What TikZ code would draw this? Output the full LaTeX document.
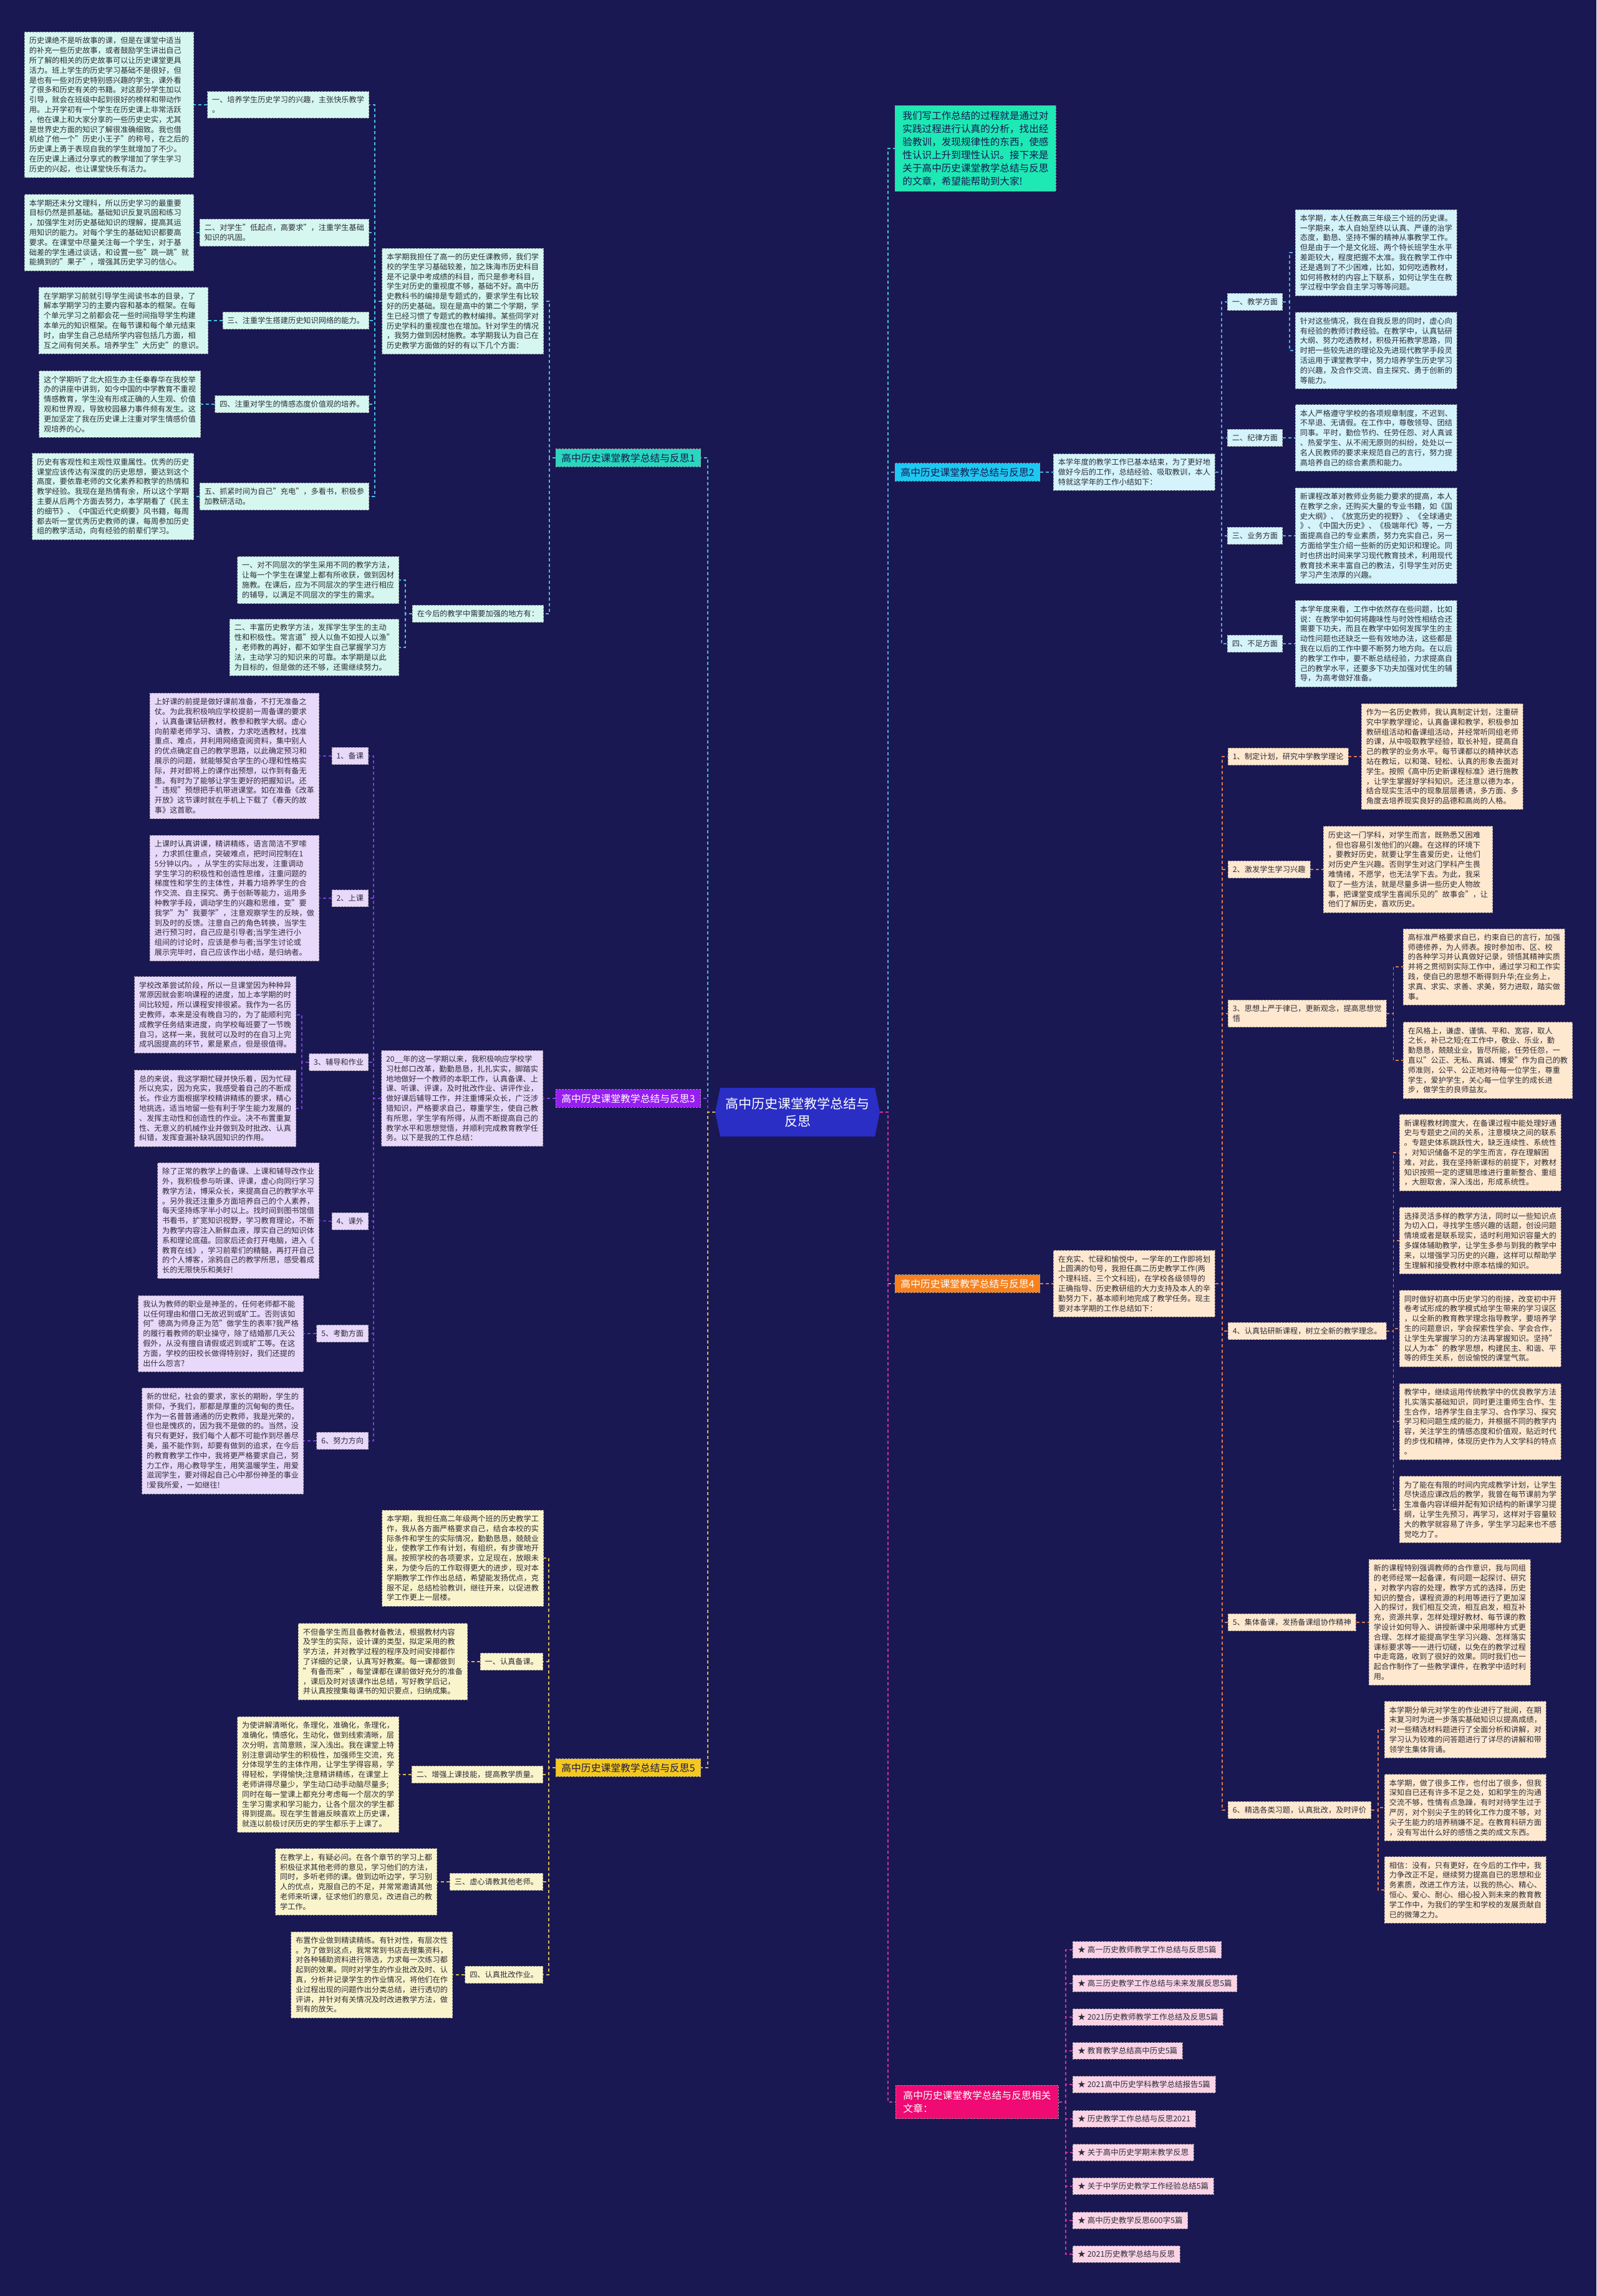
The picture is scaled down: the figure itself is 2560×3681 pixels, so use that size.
\documentclass[tikz,border=0pt]{standalone}
\usepackage{fontspec}
\setmainfont{Noto Sans CJK SC}
\definecolor{bg}{RGB}{26,24,82}
\definecolor{txt}{RGB}{45,45,55}
\definecolor{rootc}{RGB}{42,46,196}
\definecolor{aFill}{RGB}{214,247,240}\definecolor{aLine}{RGB}{70,190,225}\definecolor{aHead}{RGB}{40,215,190}
\definecolor{iFill}{RGB}{30,232,180}\definecolor{iLine}{RGB}{60,200,200}
\definecolor{bFill}{RGB}{212,243,250}\definecolor{bLine}{RGB}{80,170,230}\definecolor{bHead}{RGB}{30,200,240}
\definecolor{cFill}{RGB}{232,216,250}\definecolor{cLine}{RGB}{120,60,220}\definecolor{cHead}{RGB}{150,30,240}
\definecolor{dFill}{RGB}{254,232,208}\definecolor{dLine}{RGB}{220,120,80}\definecolor{dHead}{RGB}{245,130,30}
\definecolor{eFill}{RGB}{250,244,205}\definecolor{eLine}{RGB}{215,185,75}\definecolor{eHead}{RGB}{245,200,30}
\definecolor{fFill}{RGB}{250,212,230}\definecolor{fLine}{RGB}{210,50,170}\definecolor{fHead}{RGB}{240,10,115}
\tikzset{
 box/.style={draw=black!45, dash pattern=on 3pt off 2pt, line width=0.9pt, align=left, inner xsep=7.5pt, inner ysep=8pt, font=\fontsize{12.2}{15.8}\selectfont, text=txt},
 la/.style={box, fill=aFill},
 lb/.style={box, fill=bFill},
 lc/.style={box, fill=cFill},
 ld/.style={box, fill=dFill},
 le/.style={box, fill=eFill},
 lf/.style={box, fill=fFill, inner xsep=8pt, inner ysep=7.5pt, font=\fontsize{12.5}{15.8}\selectfont},
 head/.style={draw=black!40, dash pattern=on 3pt off 2pt, line width=0.9pt, align=left, inner xsep=9pt, inner ysep=7pt, font=\fontsize{15.8}{21}\selectfont},
 conn/.style={line width=1.6pt, dash pattern=on 5pt off 4pt},
}
\begin{document}
\begin{tikzpicture}[x=1pt,y=-1pt]
\fill[bg] (0,0) rectangle (2560,3681);
\useasboundingbox (0,0) rectangle (2560,3681);

% ---------------- root ----------------
\fill[rootc] (1155,1744) -- (1403,1744) -- (1411,1783) -- (1403,1822) -- (1155,1822) -- (1147,1783) -- cycle;
\node[minimum width=264pt, minimum height=78pt, inner sep=0pt] (root) at (1279,1783) {};
\node[text=white, align=center, font=\fontsize{21}{28}\selectfont] at (1279,1783) {高中历史课堂教学总结与\\反思};

% ---------------- branch 1 ----------------
\node[head, fill=aHead, text=bg, anchor=east] (B1) at (1124,734) {高中历史课堂教学总结与反思1};
\node[la, anchor=east] (N1) at (872,483) {本学期我担任了高一的历史任课教师，我们学\\校的学生学习基础较差，加之珠海市历史科目\\是不记录中考成绩的科目，而只是参考科目，\\学生对历史的重视度不够，基础不好。高中历\\史教科书的编排是专题式的，要求学生有比较\\好的历史基础。现在是高中的第二个学期，学\\生已经习惯了专题式的教材编排。某些同学对\\历史学科的重视度也在增加。针对学生的情况\\，我努力做到因材施教。本学期我认为自己在\\历史教学方面做的好的有以下几个方面：};
\node[la, anchor=east] (N1b) at (872,984) {在今后的教学中需要加强的地方有：};
\node[la, anchor=east] (C1a) at (592,168) {一、培养学生历史学习的兴趣，主张快乐教学\\。};
\node[la, anchor=east] (C1b) at (592,373) {二、对学生"低起点，高要求"，注重学生基础\\知识的巩固。};
\node[la, anchor=east] (C1c) at (592,514) {三、注重学生搭建历史知识网络的能力。};
\node[la, anchor=east] (C1d) at (592,648) {四、注重对学生的情感态度价值观的培养。};
\node[la, anchor=east] (C1e) at (592,796) {五、抓紧时间为自己"充电"，多看书，积极参\\加教研活动。};
\node[la, anchor=east] (L1a) at (311,168) {历史课绝不是听故事的课，但是在课堂中适当\\的补充一些历史故事，或者鼓励学生讲出自己\\所了解的相关的历史故事可以让历史课堂更具\\活力。班上学生的历史学习基础不是很好，但\\是也有一些对历史特别感兴趣的学生，课外看\\了很多和历史有关的书籍。对这部分学生加以\\引导，就会在班级中起到很好的榜样和带动作\\用。上开学初有一个学生在历史课上非常活跃\\，他在课上和大家分享的一些历史史实，尤其\\是世界史方面的知识了解很准确细致。我也借\\机给了他一个"历史小王子"的称号，在之后的\\历史课上勇于表现自我的学生就增加了不少。\\在历史课上通过分享式的教学增加了学生学习\\历史的兴起，也让课堂快乐有活力。};
\node[la, anchor=east] (L1b) at (311,373) {本学期还未分文理科，所以历史学习的最重要\\目标仍然是抓基础。基础知识反复巩固和练习\\，加强学生对历史基础知识的理解，提高其运\\用知识的能力。对每个学生的基础知识都要高\\要求。在课堂中尽量关注每一个学生，对于基\\础差的学生通过谈话，和设置一些"跳一跳"就\\能摘到的"果子"，增强其历史学习的信心。};
\node[la, anchor=east] (L1c) at (334,514) {在学期学习前就引导学生阅读书本的目录，了\\解本学期学习的主要内容和基本的框架。在每\\个单元学习之前都会花一些时间指导学生构建\\本单元的知识框架。在每节课和每个单元结束\\时，由学生自己总结所学内容包括几方面，相\\互之间有何关系。培养学生"大历史"的意识。};
\node[la, anchor=east] (L1d) at (322,648) {这个学期听了北大招生办主任秦春华在我校举\\办的讲座中讲到，如今中国的中学教育不重视\\情感教育，学生没有形成正确的人生观、价值\\观和世界观，导致校园暴力事件频有发生。这\\更加坚定了我在历史课上注重对学生情感价值\\观培养的心。};
\node[la, anchor=east] (L1e) at (311,796) {历史有客观性和主观性双重属性。优秀的历史\\课堂应该传达有深度的历史思想，要达到这个\\高度，要依靠老师的文化素养和教学的热情和\\教学经验。我现在是热情有余，所以这个学期\\主要从后两个方面去努力，本学期看了《民主\\的细节》、《中国近代史纲要》风书籍，每周\\都去听一堂优秀历史教师的课，每周参加历史\\组的教学活动，向有经验的前辈们学习。};
\node[la, anchor=east] (L1f) at (640,930) {一、对不同层次的学生采用不同的教学方法，\\让每一个学生在课堂上都有所收获，做到因材\\施教。在课后，应为不同层次的学生进行相应\\的辅导，以满足不同层次的学生的需求。};
\node[la, anchor=east] (L1g) at (640,1038) {二、丰富历史教学方法，发挥学生学生的主动\\性和积极性。常言道"授人以鱼不如授人以渔"\\，老师教的再好，都不如学生自己掌握学习方\\法，主动学习的知识来的可靠。本学期是以此\\为目标的，但是做的还不够，还需继续努力。};

\draw[conn,aLine] (root.west) -- ++(-12,0) |- (B1.east);
\foreach \c in {N1,N1b} \draw[conn,aLine] (B1.west) -- ++(-10,0) |- (\c.east);
\foreach \c in {C1a,C1b,C1c,C1d,C1e} \draw[conn,aLine] (N1.west) -- ++(-11,0) |- (\c.east);
\draw[conn,aLine] (C1a.west) -- (L1a.east);
\draw[conn,aLine] (C1b.west) -- (L1b.east);
\draw[conn,aLine] (C1c.west) -- (L1c.east);
\draw[conn,aLine] (C1d.west) -- (L1d.east);
\draw[conn,aLine] (C1e.west) -- (L1e.east);
\foreach \c in {L1f,L1g} \draw[conn,aLine] (N1b.west) -- ++(-11,0) |- (\c.east);

% ---------------- branch 3 ----------------
\node[head, fill=cHead, text=white, anchor=east] (B3) at (1124,1761) {高中历史课堂教学总结与反思3};
\node[lc, anchor=east] (N3) at (871,1761) {20\_\_年的这一学期以来，我积极响应学校学\\习杜郎口改革，勤勤恳恳，扎扎实实，脚踏实\\地地做好一个教师的本职工作，认真备课、上\\课、听课、评课，及时批改作业、讲评作业，\\做好课后辅导工作，并注重博采众长，广泛涉\\猎知识，严格要求自己，尊重学生，使自己教\\有所思，学生学有所得，从而不断提高自己的\\教学水平和思想觉悟，并顺利完成教育教学任\\务。以下是我的工作总结：};
\node[lc, anchor=east] (C3a) at (591,1212) {1、备课};
\node[lc, anchor=east] (C3b) at (591,1440) {2、上课};
\node[lc, anchor=east] (C3c) at (591,1703) {3、辅导和作业};
\node[lc, anchor=east] (C3d) at (591,1958) {4、课外};
\node[lc, anchor=east] (C3e) at (591,2138) {5、考勤方面};
\node[lc, anchor=east] (C3f) at (591,2310) {6、努力方向};
\node[lc, anchor=east] (L3a) at (512,1212) {上好课的前提是做好课前准备，不打无准备之\\仗。为此我积极响应学校提前一周备课的要求\\，认真备课钻研教材，教参和教学大纲。虚心\\向前辈老师学习、请教，力求吃透教材，找准\\重点、难点，并利用网络查阅资料，集中别人\\的优点确定自己的教学思路，以此确定预习和\\展示的问题，就能够契合学生的心理和性格实\\际，并对即将上的课作出预想，以作到有备无\\患。有时为了能够让学生更好的把握知识。还\\"违规"预想把手机带进课堂。如在准备《改革\\开放》这节课时就在手机上下载了《春天的故\\事》这首歌。};
\node[lc, anchor=east] (L3b) at (512,1440) {上课时认真讲课，精讲精练，语言简洁不罗嗦\\，力求抓住重点，突破难点，把时间控制在1\\5分钟以内。，从学生的实际出发，注重调动\\学生学习的积极性和创造性思维，注重问题的\\梯度性和学生的主体性，并着力培养学生的合\\作交流、自主探究、勇于创新等能力，运用多\\种教学手段，调动学生的兴趣和思维，变"要\\我学"为"我要学"，注意观察学生的反映，做\\到及时的反馈。注意自己的角色转换，当学生\\进行预习时，自己应是引导者;当学生进行小\\组间的讨论时，应该是参与者;当学生讨论或\\展示完毕时，自己应该作出小结，是归纳者。};
\node[lc, anchor=east] (L3c) at (475,1627) {学校改革尝试阶段，所以一旦课堂因为种种异\\常原因就会影响课程的进度，加上本学期的时\\间比较短，所以课程安排很紧。我作为一名历\\史教师，本来是没有晚自习的，为了能顺利完\\成教学任务结束进度，向学校每班要了一节晚\\自习，这样一来，我就可以及时的在自习上完\\成巩固提高的环节，累是累点，但是很值得。};
\node[lc, anchor=east] (L3d) at (475,1777) {总的来说，我这学期忙碌并快乐着，因为忙碌\\所以充实，因为充实，我感受着自己的不断成\\长。作业方面根据学校精讲精练的要求，精心\\地挑选，适当地留一些有利于学生能力发展的\\、发挥主动性和创造性的作业。决不布置重复\\性、无意义的机械作业并做到及时批改、认真\\纠错，发挥查漏补缺巩固知识的作用。};
\node[lc, anchor=east] (L3e) at (512,1957) {除了正常的教学上的备课、上课和辅导改作业\\外，我积极参与听课、评课，虚心向同行学习\\教学方法，博采众长，来提高自己的教学水平\\。另外我还注重多方面培养自己的个人素养，\\每天坚持练字半小时以上。找时间到图书馆借\\书看书，扩宽知识视野，学习教育理论，不断\\为教学内容注入新鲜血液，厚实自己的知识体\\系和理论底蕴。回家后还会打开电脑，进入《\\教育在线》，学习前辈们的精髓，再打开自己\\的个人博客，涂鸦自己的教学所思，感受着成\\长的无限快乐和美好!};
\node[lc, anchor=east] (L3f) at (487,2138) {我认为教师的职业是神圣的，任何老师都不能\\以任何理由和借口无故迟到或旷工。否则该如\\何"德高为师身正为范"做学生的表率?我严格\\的履行着教师的职业操守，除了结婚那几天公\\假外，从没有擅自请假或迟到或旷工等。在这\\方面，学校的田校长做得特别好，我们还提的\\出什么怨言?};
\node[lc, anchor=east] (L3g) at (487,2310) {新的世纪，社会的要求，家长的期盼，学生的\\崇仰，予我们，那都是厚重的沉甸甸的责任。\\作为一名普普通通的历史教师，我是光荣的，\\但也是愧疚的，因为我不是做的的。当然，没\\有只有更好，我们每个人都不可能作到尽善尽\\美，虽不能作到，却要有做到的追求，在今后\\的教育教学工作中，我将更严格要求自己，努\\力工作，用心教导学生，用笑温暖学生，用爱\\滋润学生，要对得起自己心中那份神圣的事业\\!爱我所爱，一如继往!};

\draw[conn,cLine] (root.west) -- ++(-12,0) |- (B3.east);
\draw[conn,cLine] (B3.west) -- (N3.east);
\foreach \c in {C3a,C3b,C3c,C3d,C3e,C3f} \draw[conn,cLine] (N3.west) -- ++(-12,0) |- (\c.east);
\draw[conn,cLine] (C3a.west) -- (L3a.east);
\draw[conn,cLine] (C3b.west) -- (L3b.east);
\foreach \c in {L3c,L3d} \draw[conn,cLine] (C3c.west) -- ++(-11,0) |- (\c.east);
\draw[conn,cLine] (C3d.west) -- (L3e.east);
\draw[conn,cLine] (C3e.west) -- (L3f.east);
\draw[conn,cLine] (C3f.west) -- (L3g.east);

% ---------------- branch 5 ----------------
\node[head, fill=eHead, text=bg, anchor=east] (B5) at (1124,2834) {高中历史课堂教学总结与反思5};
\node[le, anchor=east] (N5) at (872,2498) {本学期，我担任高二年级两个班的历史教学工\\作，我从各方面严格要求自己，结合本校的实\\际条件和学生的实际情况，勤勤恳恳，兢兢业\\业，使教学工作有计划，有组织，有步骤地开\\展。按照学校的各项要求，立足现在，放眼未\\来，为使今后的工作取得更大的进步，现对本\\学期教学工作作出总结，希望能发扬优点，克\\服不足，总结检验教训，继往开来，以促进教\\学工作更上一层楼。};
\node[le, anchor=east] (C5a) at (871,2664) {一、认真备课。};
\node[le, anchor=east] (C5b) at (871,2845) {二、增强上课技能，提高教学质量。};
\node[le, anchor=east] (C5c) at (871,3017) {三、虚心请教其他老师。};
\node[le, anchor=east] (C5d) at (871,3166) {四、认真批改作业。};
\node[le, anchor=east] (L5a) at (750,2664) {不但备学生而且备教材备教法，根据教材内容\\及学生的实际，设计课的类型，拟定采用的教\\学方法，并对教学过程的程序及时间安排都作\\了详细的记录，认真写好教案。每一课都做到\\"有备而来"，每堂课都在课前做好充分的准备\\，课后及时对该课作出总结，写好教学后记，\\并认真按搜集每课书的知识要点，归纳成集。};
\node[le, anchor=east] (L5b) at (640,2845) {为使讲解清晰化，条理化，准确化，条理化，\\准确化，情感化，生动化，做到线索清晰，层\\次分明，言简意赅，深入浅出。我在课堂上特\\别注意调动学生的积极性，加强师生交流，充\\分体现学生的主体作用，让学生学得容易，学\\得轻松，学得愉快;注意精讲精练，在课堂上\\老师讲得尽量少，学生动口动手动脑尽量多;\\同时在每一堂课上都充分考虑每一个层次的学\\生学习需求和学习能力，让各个层次的学生都\\得到提高。现在学生普遍反映喜欢上历史课，\\就连以前极讨厌历史的学生都乐于上课了。};
\node[le, anchor=east] (L5c) at (701,3017) {在教学上，有疑必问。在各个章节的学习上都\\积极征求其他老师的意见，学习他们的方法，\\同时，多听老师的课。做到边听边学，学习别\\人的优点，克服自己的不足，并常常邀请其他\\老师来听课，征求他们的意见，改进自己的教\\学工作。};
\node[le, anchor=east] (L5d) at (726,3166) {布置作业做到精读精练。有针对性，有层次性\\。为了做到这点，我常常到书店去搜集资料，\\对各种辅助资料进行筛选，力求每一次练习都\\起到的效果。同时对学生的作业批改及时、认\\真，分析并记录学生的作业情况，将他们在作\\业过程出现的问题作出分类总结，进行透切的\\评讲，并针对有关情况及时改进教学方法，做\\到有的放矢。};

\draw[conn,eLine] (root.west) -- ++(-12,0) |- (B5.east);
\foreach \c in {N5,C5a,C5b,C5c,C5d} \draw[conn,eLine] (B5.west) -- ++(-11,0) |- (\c.east);
\draw[conn,eLine] (C5a.west) -- (L5a.east);
\draw[conn,eLine] (C5b.west) -- (L5b.east);
\draw[conn,eLine] (C5c.west) -- (L5c.east);
\draw[conn,eLine] (C5d.west) -- (L5d.east);

% ---------------- intro & branch 2 ----------------
\node[head, fill=iFill, text=bg, anchor=west, inner xsep=12pt, inner ysep=9pt, font=\fontsize{15.6}{21}\selectfont] (intro) at (1435,238) {我们写工作总结的过程就是通过对\\实践过程进行认真的分析，找出经\\验教训，发现规律性的东西，使感\\性认识上升到理性认识。接下来是\\关于高中历史课堂教学总结与反思\\的文章，希望能帮助到大家!};
\node[head, fill=bHead, text=bg, anchor=west] (B2) at (1435,757) {高中历史课堂教学总结与反思2};
\node[lb, anchor=west] (N2) at (1689,757) {本学年度的教学工作已基本结束，为了更好地\\做好今后的工作，总结经验、吸取教训，本人\\特就这学年的工作小结如下：};
\node[lb, anchor=west] (C2a) at (1968,484) {一、教学方面};
\node[lb, anchor=west] (C2b) at (1968,702) {二、纪律方面};
\node[lb, anchor=west] (C2c) at (1968,859) {三、业务方面};
\node[lb, anchor=west] (C2d) at (1968,1032) {四、不足方面};
\node[lb, anchor=west] (L2a) at (2077,405) {本学期，本人任教高三年级三个班的历史课。\\一学期来，本人自始至终以认真、严谨的治学\\态度，勤恳、坚持不懈的精神从事教学工作。\\但是由于一个是文化班、两个特长班学生水平\\差距较大，程度把握不太准。我在教学工作中\\还是遇到了不少困难，比如，如何吃透教材，\\如何将教材的内容上下联系，如何让学生在教\\学过程中学会自主学习等等问题。};
\node[lb, anchor=west] (L2b) at (2077,562) {针对这些情况，我在自我反思的同时，虚心向\\有经验的教师讨教经验。在教学中，认真钻研\\大纲、努力吃透教材，积极开拓教学思路，同\\时把一些较先进的理论及先进现代教学手段灵\\活运用于课堂教学中，努力培养学生历史学习\\的兴趣，及合作交流、自主探究、勇于创新的\\等能力。};
\node[lb, anchor=west] (L2c) at (2077,702) {本人严格遵守学校的各项规章制度，不迟到、\\不早退、无请假。在工作中，尊敬领导、团结\\同事。平时，勤俭节约、任劳任怨、对人真诚\\、热爱学生、从不闹无原则的纠纷，处处以一\\名人民教师的要求来规范自己的言行，努力提\\高培养自己的综合素质和能力。};
\node[lb, anchor=west] (L2d) at (2077,859) {新课程改革对教师业务能力要求的提高，本人\\在教学之余，还购买大量的专业书籍，如《国\\史大纲》、《放宽历史的视野》、《全球通史\\》、《中国大历史》、《极端年代》等，一方\\面提高自己的专业素质，努力充实自己，另一\\方面给学生介绍一些新的历史知识和理论。同\\时也挤出时间来学习现代教育技术，利用现代\\教育技术来丰富自己的教法，引导学生对历史\\学习产生浓厚的兴趣。};
\node[lb, anchor=west] (L2e) at (2077,1032) {本学年度来看，工作中依然存在些问题，比如\\说：在教学中如何将趣味性与时效性相结合还\\需要下功夫，而且在教学中如何发挥学生的主\\动性问题也还缺乏一些有效地办法，这些都是\\我在以后的工作中要不断努力地方向。在以后\\的教学工作中，要不断总结经验，力求提高自\\己的教学水平，还要多下功夫加强对优生的辅\\导，为高考做好准备。};

\draw[conn,iLine] (root.east) -- ++(13,0) |- (intro.west);
\draw[conn,bLine] (root.east) -- ++(13,0) |- (B2.west);
\draw[conn,bLine] (B2.east) -- (N2.west);
\foreach \c in {C2a,C2b,C2c,C2d} \draw[conn,bLine] (N2.east) -- ++(10,0) |- (\c.west);
\foreach \c in {L2a,L2b} \draw[conn,bLine] (C2a.east) -- ++(11,0) |- (\c.west);
\draw[conn,bLine] (C2b.east) -- (L2c.west);
\draw[conn,bLine] (C2c.east) -- (L2d.west);
\draw[conn,bLine] (C2d.east) -- (L2e.west);

% ---------------- branch 4 ----------------
\node[head, fill=dHead, text=white, anchor=west] (B4) at (1435,2058) {高中历史课堂教学总结与反思4};
\node[ld, anchor=west] (N4) at (1689,2058) {在充实、忙碌和愉悦中，一学年的工作即将划\\上圆满的句号，我担任高二历史教学工作(两\\个理科班、三个文科班)，在学校各级领导的\\正确指导、历史教研组的大力支持及本人的辛\\勤努力下，基本顺利地完成了教学任务。现主\\要对本学期的工作总结如下：};
\node[ld, anchor=west] (C4a) at (1969,1213) {1、制定计划，研究中学教学理论};
\node[ld, anchor=west] (C4b) at (1969,1394) {2、激发学生学习兴趣};
\node[ld, anchor=west] (C4c) at (1969,1625) {3、思想上严于律已，更新观念，提高思想觉\\悟};
\node[ld, anchor=west] (C4d) at (1969,2134) {4、认真钻研新课程，树立全新的教学理念。};
\node[ld, anchor=west] (C4e) at (1969,2601) {5、集体备课，发扬备课组协作精神};
\node[ld, anchor=west] (C4f) at (1969,2902) {6、精选各类习题，认真批改，及时评价};
\node[ld, anchor=west] (L4a) at (2183,1213) {作为一名历史教师，我认真制定计划，注重研\\究中学教学理论，认真备课和教学，积极参加\\教研组活动和备课组活动，并经常听同组老师\\的课，从中吸取教学经验，取长补短，提高自\\己的教学的业务水平。每节课都以的精神状态\\站在教坛，以和蔼、轻松、认真的形象去面对\\学生。按照《高中历史新课程标准》进行施教\\，让学生掌握好学科知识。还注意以德为本，\\结合现实生活中的现象层层善诱，多方面、多\\角度去培养现实良好的品德和高尚的人格。};
\node[ld, anchor=west] (L4b) at (2122,1394) {历史这一门学科，对学生而言，既熟悉又困难\\，但也容易引发他们的兴趣。在这样的环境下\\，要教好历史，就要让学生喜爱历史，让他们\\对历史产生兴趣。否则学生对这门学科产生畏\\难情绪，不愿学，也无法学下去。为此，我采\\取了一些方法，就是尽量多讲一些历史人物故\\事，把课堂变成学生喜闻乐见的"故事会"，让\\他们了解历史，喜欢历史。};
\node[ld, anchor=west] (L4c) at (2250,1550) {高标准严格要求自已，约束自已的言行，加强\\师德修养，为人师表。按时参加市、区、校\\的各种学习并认真做好记录，领悟其精神实质\\并将之贯彻到实际工作中，通过学习和工作实\\践，使自已的思想不断得到升华;在业务上，\\求真、求实、求善、求美，努力进取，踏实做\\事。};
\node[ld, anchor=west] (L4d) at (2250,1700) {在风格上，谦虚、谨慎、平和、宽容，取人\\之长，补已之短;在工作中，敬业、乐业，勤\\勤恳恳，兢兢业业，皆尽所能，任劳任怨，一\\直以"公正、无私、真诚、博爱"作为自己的教\\师准则，公平、公正地对待每一位学生，尊重\\学生，爱护学生，关心每一位学生的成长进\\步，做学生的良师益友。};
\node[ld, anchor=west] (L4e) at (2244,1848) {新课程教材跨度大，在备课过程中能处理好通\\史与专题史之间的关系，注意模块之间的联系\\。专题史体系跳跃性大，缺乏连续性、系统性\\，对知识储备不足的学生而言，存在理解困\\难，对此，我在坚持新课标的前提下，对教材\\知识按照一定的逻辑思维进行重新整合、重组\\，大胆取舍，深入浅出，形成系统性。};
\node[ld, anchor=west] (L4f) at (2244,1989) {选择灵活多样的教学方法，同时以一些知识点\\为切入口，寻找学生感兴趣的话题，创设问题\\情境或者是联系现实，适时利用知识容量大的\\多媒体辅助教学，让学生多参与到我的教学中\\来，以增强学习历史的兴趣，这样可以帮助学\\生理解和接受教材中原本枯燥的知识。};
\node[ld, anchor=west] (L4g) at (2244,2130) {同时做好初高中历史学习的衔接，改变初中开\\卷考试形成的教学模式给学生带来的学习误区\\，以全新的教育教学理念指导教学，要培养学\\生的问题意识，学会探索性学会、学会合作，\\让学生先掌握学习的方法再掌握知识。坚持"\\以人为本"的教学思想，构建民主、和谐、平\\等的师生关系，创设愉悦的课堂气氛。};
\node[ld, anchor=west] (L4h) at (2244,2279) {教学中，继续运用传统教学中的优良教学方法\\扎实落实基础知识，同时更注重师生合作、生\\生合作，培养学生自主学习、合作学习、探究\\学习和问题生成的能力，并根据不同的教学内\\容，关注学生的情感态度和价值观，贴近时代\\的步伐和精神，体现历史作为人文学科的特点\\。};
\node[ld, anchor=west] (L4i) at (2244,2420) {为了能在有限的时间内完成教学计划，让学生\\尽快适应课改后的教学，我曾在每节课前为学\\生准备内容详细并配有知识结构的新课学习提\\纲，让学生先预习，再学习，这样对于容量较\\大的教学就容易了许多，学生学习起来也不感\\觉吃力了。};
\node[ld, anchor=west] (L4j) at (2195,2601) {新的课程特别强调教师的合作意识，我与同组\\的老师经常一起备课，有问题一起探讨、研究\\，对教学内容的处理，教学方式的选择，历史\\知识的整合，课程资源的利用等进行了更加深\\入的探讨，我们相互交流，相互启发，相互补\\充，资源共享，怎样处理好教材、每节课的教\\学设计如何导入、讲授新课中采用哪种方式更\\合理、怎样才能提高学生学习兴趣、怎样落实\\课标要求等一一进行切磋，以免在的教学过程\\中走弯路，收到了很好的效果。同时我们也一\\起合作制作了一些教学课件，在教学中适时利\\用。};
\node[ld, anchor=west] (L4k) at (2220,2773) {本学期分单元对学生的作业进行了批阅，在期\\末复习时为进一步落实基础知识以提高成绩，\\对一些精选材料题进行了全面分析和讲解，对\\学习认为较难的问答题进行了详尽的讲解和带\\领学生集体背诵。};
\node[ld, anchor=west] (L4l) at (2220,2898) {本学期，做了很多工作，也付出了很多，但我\\深知自已还有许多不足之处，如和学生的沟通\\交流不够，性情有点急躁，有时对待学生过于\\严厉，对个别尖子生的转化工作力度不够，对\\尖子生能力的培养稍嫌不足。在教育科研方面\\，没有写出什么好的感悟之类的成文东西。};
\node[ld, anchor=west] (L4m) at (2220,3030) {相信：没有，只有更好，在今后的工作中，我\\力争改正不足，继续努力提高自已的思想和业\\务素质，改进工作方法，以我的热心、精心、\\恒心、爱心、耐心、细心投入到未来的教育教\\学工作中，为我们的学生和学校的发展贡献自\\已的微薄之力。};

\draw[conn,dLine] (root.east) -- ++(13,0) |- (B4.west);
\draw[conn,dLine] (B4.east) -- (N4.west);
\foreach \c in {C4a,C4b,C4c,C4d,C4e,C4f} \draw[conn,dLine] (N4.east) -- ++(11,0) |- (\c.west);
\draw[conn,dLine] (C4a.east) -- (L4a.west);
\draw[conn,dLine] (C4b.east) -- (L4b.west);
\foreach \c in {L4c,L4d} \draw[conn,dLine] (C4c.east) -- ++(11,0) |- (\c.west);
\foreach \c in {L4e,L4f,L4g,L4h,L4i} \draw[conn,dLine] (C4d.east) -- ++(11,0) |- (\c.west);
\draw[conn,dLine] (C4e.east) -- (L4j.west);
\foreach \c in {L4k,L4l,L4m} \draw[conn,dLine] (C4f.east) -- ++(11,0) |- (\c.west);

% ---------------- branch 6 ----------------
\node[head, fill=fHead, text=white, anchor=west, inner xsep=12pt, inner ysep=9pt] (B6) at (1436,3370) {高中历史课堂教学总结与反思相关\\文章：};
\node[lf, anchor=west] (I1) at (1720,3126) {★ 高一历史教师教学工作总结与反思5篇};
\node[lf, anchor=west] (I2) at (1720,3180) {★ 高三历史教学工作总结与未来发展反思5篇};
\node[lf, anchor=west] (I3) at (1720,3234) {★ 2021历史教师教学工作总结及反思5篇};
\node[lf, anchor=west] (I4) at (1720,3288) {★ 教育教学总结高中历史5篇};
\node[lf, anchor=west] (I5) at (1720,3342) {★ 2021高中历史学科教学总结报告5篇};
\node[lf, anchor=west] (I6) at (1720,3397) {★ 历史教学工作总结与反思2021};
\node[lf, anchor=west] (I7) at (1720,3451) {★ 关于高中历史学期末教学反思};
\node[lf, anchor=west] (I8) at (1720,3505) {★ 关于中学历史教学工作经验总结5篇};
\node[lf, anchor=west] (I9) at (1720,3560) {★ 高中历史教学反思600字5篇};
\node[lf, anchor=west] (I10) at (1720,3614) {★ 2021历史教学总结与反思};

\draw[conn,fLine] (root.east) -- ++(13,0) |- (B6.west);
\foreach \c in {I1,I2,I3,I4,I5,I6,I7,I8,I9,I10} \draw[conn,fLine] (B6.east) -- ++(11,0) |- (\c.west);
\end{tikzpicture}
\end{document}
